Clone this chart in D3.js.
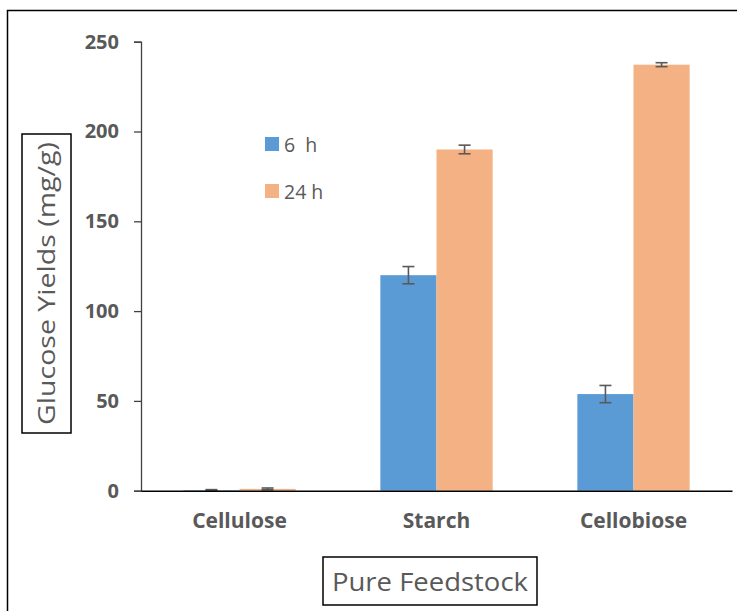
<!DOCTYPE html>
<html>
<head>
<meta charset="utf-8">
<script src="https://cdn.jsdelivr.net/npm/d3@7"></script>
<style>
  html, body { margin: 0; padding: 0; background: #fff; }
  svg { display: block; }
</style>
</head>
<body>
<svg id="chart" width="737" height="611"></svg>
<script>
const categories = ["Cellulose", "Starch", "Cellobiose"];
const seriesNames = ["6  h", "24 h"];
const values6h = [0.3, 120, 53.8];
const values24h = [1.0, 190, 237.2];
const errors6h = [0.3, 4.8, 4.8];
const errors24h = [0.5, 2.4, 1.1];
const yTicks = [0, 50, 100, 150, 200, 250];

const colors = ["#5B9BD5", "#F4B183"];
const textGray = "#595959";
const font = "'Open Sans', 'Noto Sans', sans-serif";

const svg = d3.select("#chart");
const plotLeft = 141, plotRight = 732, plotTop = 41.7, plotBottom = 490.7;

const x = d3.scaleBand().domain(categories).range([plotLeft, plotRight]).paddingInner(0.43).paddingOuter(0.215);
const y = d3.scaleLinear().domain([0, 250]).range([plotBottom, plotTop]);
const xs = d3.scaleBand().domain(seriesNames).range([0, x.bandwidth()]);

// outer border
svg.append("rect").attr("x", 7.5).attr("y", 10.5).attr("width", 740).attr("height", 620)
  .attr("fill", "none").attr("stroke", "#000").attr("stroke-width", 1.5);

const series = [values6h, values24h];
const errs = [errors6h, errors24h];

// bars
series.forEach((vals, si) => {
  svg.append("g").selectAll("rect").data(categories).join("rect")
    .attr("x", c => x(c) + xs(seriesNames[si]))
    .attr("width", xs.bandwidth())
    .attr("y", (c, i) => y(vals[i]))
    .attr("height", (c, i) => y(0) - y(vals[i]))
    .attr("fill", colors[si]);
});

// error bars
series.forEach((vals, si) => {
  const g = svg.append("g").attr("stroke", "#595959").attr("stroke-width", 1.6).attr("fill", "none");
  categories.forEach((c, i) => {
    const cx = x(c) + xs(seriesNames[si]) + xs.bandwidth() / 2;
    const y1 = y(vals[i] + errs[si][i]);
    const y2 = y(Math.max(0, vals[i] - errs[si][i]));
    g.append("line").attr("x1", cx).attr("x2", cx).attr("y1", y1).attr("y2", y2);
    g.append("line").attr("x1", cx - 6).attr("x2", cx + 6).attr("y1", y1).attr("y2", y1);
    g.append("line").attr("x1", cx - 6).attr("x2", cx + 6).attr("y1", y2).attr("y2", y2);
  });
});

// y axis
const yAxis = d3.axisLeft(y).tickValues(yTicks).tickSize(7).tickPadding(15);
const yg = svg.append("g").attr("transform", `translate(${plotLeft},0)`).call(yAxis);
yg.select(".domain").attr("stroke", "#404040").attr("stroke-width", 1.3);
yg.selectAll(".tick line").attr("stroke", "#404040").attr("stroke-width", 1.3);
yg.selectAll(".tick text").attr("fill", textGray).style("font-family", font)
  .style("font-size", "20px").style("font-weight", "bold");

// x axis
const xAxis = d3.axisBottom(x).tickSize(0).tickPadding(22);
const xg = svg.append("g").attr("transform", `translate(0,${plotBottom})`).call(xAxis);
xg.select(".domain").attr("stroke", "#000").attr("stroke-width", 1.5);
xg.selectAll(".tick text").attr("fill", textGray).style("font-family", font)
  .style("font-size", "21px").style("font-weight", "bold");

// legend
const legend = svg.append("g");
seriesNames.forEach((s, i) => {
  const ly = 144 + i * 47;
  legend.append("rect").attr("x", 265).attr("y", ly - 7).attr("width", 14).attr("height", 14).attr("fill", colors[i]);
  legend.append("text").attr("x", 284).attr("y", ly + 7.5).text(s)
    .attr("fill", textGray).style("font-family", font).style("font-size", "19.5px")
    .style("white-space", "pre").attr("xml:space", "preserve");
});

// y title box
svg.append("rect").attr("x", 22).attr("y", 134).attr("width", 49).attr("height", 299)
  .attr("fill", "none").attr("stroke", "#000").attr("stroke-width", 1.5);
svg.append("text").attr("transform", "translate(55,283.5) rotate(-90)")
  .attr("text-anchor", "middle").text("Glucose Yields (mg/g)")
  .attr("fill", textGray).style("font-family", font).style("font-size", "23px")
  .attr("textLength", 283).attr("lengthAdjust", "spacingAndGlyphs");

// x title box
svg.append("rect").attr("x", 323).attr("y", 557).attr("width", 214).attr("height", 48)
  .attr("fill", "none").attr("stroke", "#000").attr("stroke-width", 1.5);
svg.append("text").attr("x", 430).attr("y", 591)
  .attr("text-anchor", "middle").text("Pure Feedstock")
  .attr("fill", textGray).style("font-family", font).style("font-size", "26px")
  .attr("textLength", 196).attr("lengthAdjust", "spacingAndGlyphs");
</script>
</body>
</html>
